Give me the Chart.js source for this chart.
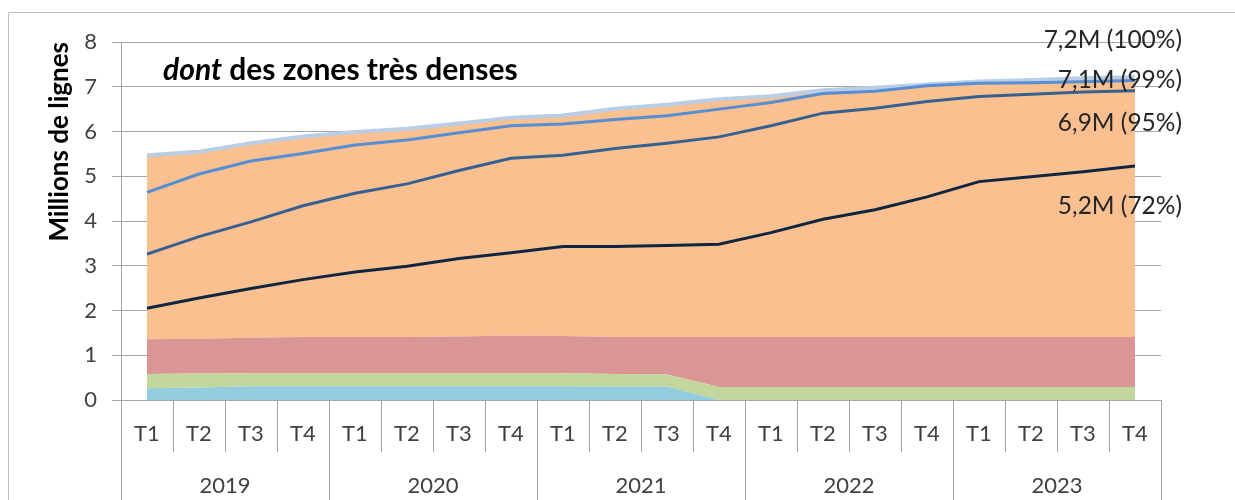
<!DOCTYPE html>
<html lang="fr">
<head>
<meta charset="UTF-8" />
<title>Zones très denses</title>
<script src="https://cdn.jsdelivr.net/npm/chart.js"></script>
<style>
	html, body { margin: 0; padding: 0; background: #fff; }
	#chartContainer { position: relative; width: 1235px; height: 500px; }
</style>
</head>
<body>
<div id="chartContainer"><canvas id="myChart"></canvas></div>
<script>
// trimestres et années
const quarters = ['T1', 'T2', 'T3', 'T4', 'T1', 'T2', 'T3', 'T4', 'T1', 'T2',
	'T3', 'T4', 'T1', 'T2', 'T3', 'T4', 'T1', 'T2', 'T3', 'T4'];
const years = ['2019', '2020', '2021', '2022', '2023'];

// aires empilées : sommet de chaque bande (millions de lignes)
const blueTop   = [0.26, 0.28, 0.31, 0.31, 0.31, 0.31, 0.31, 0.31, 0.31, 0.30, 0.30, 0, 0, 0, 0, 0, 0, 0, 0, 0];
const greenTop  = [0.58, 0.59, 0.60, 0.60, 0.60, 0.60, 0.60, 0.60, 0.60, 0.58, 0.57, 0.29, 0.29, 0.29, 0.29, 0.29, 0.29, 0.29, 0.29, 0.29];
const redTop    = [1.36, 1.37, 1.39, 1.41, 1.41, 1.41, 1.42, 1.44, 1.43, 1.41, 1.41, 1.41, 1.41, 1.41, 1.41, 1.41, 1.41, 1.41, 1.41, 1.41];

// courbes
const total100 = [5.47, 5.55, 5.74, 5.89, 5.99, 6.06, 6.18, 6.31, 6.36, 6.51, 6.60, 6.72, 6.79, 6.92, 6.98, 7.05, 7.12, 7.15, 7.19, 7.21];
const line99   = [4.64, 5.05, 5.34, 5.51, 5.70, 5.81, 5.97, 6.13, 6.17, 6.27, 6.35, 6.50, 6.65, 6.85, 6.90, 7.02, 7.08, 7.09, 7.11, 7.14];
const line95   = [3.26, 3.65, 3.98, 4.34, 4.62, 4.83, 5.13, 5.40, 5.47, 5.62, 5.74, 5.88, 6.13, 6.41, 6.52, 6.67, 6.78, 6.83, 6.88, 6.91];
const line72   = [2.05, 2.28, 2.49, 2.69, 2.86, 2.99, 3.16, 3.29, 3.43, 3.43, 3.45, 3.48, 3.74, 4.04, 4.25, 4.54, 4.88, 4.99, 5.10, 5.23];

const endLabels = ['7,2M (100%)', '7,1M (99%)', '6,9M (95%)', '5,2M (72%)'];

const FONT = 'Lato, "Open Sans", sans-serif';

// séparateurs de l'axe à deux niveaux, cadre, titre et étiquettes de fin
const decorations = {
	id: 'decorations',
	afterDraw(chart) {
		const { ctx, chartArea, scales } = chart;
		const x = scales.x, y = scales.y;
		ctx.save();
		ctx.strokeStyle = '#A6A6A6';
		ctx.lineWidth = 1;
		for (let i = 0; i <= quarters.length; i++) {
			let px;
			if (i === 0) px = chartArea.left;
			else if (i === quarters.length) px = chartArea.right;
			else px = (x.getPixelForValue(i - 1) + x.getPixelForValue(i)) / 2;
			px = Math.round(px) + 0.5;
			const bottom = i % 4 === 0 ? chart.height : chartArea.bottom + 52;
			ctx.beginPath();
			ctx.moveTo(px, chartArea.bottom);
			ctx.lineTo(px, bottom);
			ctx.stroke();
		}
		// cadre du graphique
		ctx.strokeStyle = '#BFBFBF';
		ctx.beginPath();
		ctx.moveTo(8.5, chart.height);
		ctx.lineTo(8.5, 12.5);
		ctx.lineTo(chart.width, 12.5);
		ctx.stroke();

		// titre
		ctx.fillStyle = '#000';
		ctx.textBaseline = 'alphabetic';
		ctx.textAlign = 'left';
		ctx.font = 'italic bold 30px ' + FONT;
		ctx.fillText('dont', 163, 80);
		const w = ctx.measureText('dont').width;
		ctx.font = 'bold 30px ' + FONT;
		ctx.fillText(' des zones très denses', 163 + w, 80);

		// étiquettes de fin de courbe
		const labelY = [8.04, 7.15, 6.19, 4.34];
		ctx.font = '24.5px ' + FONT;
		ctx.fillStyle = '#262626';
		ctx.textAlign = 'right';
		ctx.textBaseline = 'middle';
		endLabels.forEach((t, i) => ctx.fillText(t, 1182, y.getPixelForValue(labelY[i])));
		ctx.restore();
	}
};

const area = (data, color, fill) => ({
	type: 'line', data, fill, backgroundColor: color, borderWidth: 0,
	pointRadius: 0, tension: 0, order: 10
});
const line = (data, color, width, order) => ({
	type: 'line', data, fill: false, borderColor: color, borderWidth: width,
	pointRadius: 0, tension: 0, order
});

const config = {
	type: 'line',
	data: {
		labels: quarters,
		datasets: [
			area(blueTop, '#93CDDD', 'origin'),
			area(greenTop, '#C3D69B', '-1'),
			area(redTop, '#D99694', '-1'),
			area(total100, '#FAC090', '-1'),
			line(total100, '#B9CDE5', 4, 4),
			line(line99, '#558ED5', 3, 3),
			line(line95, '#376092', 3, 2),
			line(line72, '#10253F', 3, 1)
		]
	},
	options: {
		responsive: true,
		maintainAspectRatio: false,
		animation: false,
		layout: { padding: { top: 42, right: 74, left: 0, bottom: 0 } },
		plugins: { legend: { display: false }, tooltip: { enabled: false } },
		scales: {
			x: {
				offset: true,
				grid: { display: false, drawTicks: false },
				border: { display: true, color: '#A6A6A6' },
				ticks: { color: '#404040', font: { family: FONT, size: 22 }, padding: 21, maxRotation: 0, autoSkip: false },
				afterFit(s) { s.height = 52; }
			},
			x2: {
				type: 'category',
				labels: years,
				position: 'bottom',
				offset: true,
				grid: { display: false, drawTicks: false },
				border: { display: false },
				ticks: { color: '#404040', font: { family: FONT, size: 22 }, padding: 21, maxRotation: 0 },
				afterFit(s) { s.height = 48; }
			},
			y: {
				min: 0,
				max: 8,
				ticks: { stepSize: 1, color: '#404040', font: { family: FONT, size: 22 }, padding: 15 },
				grid: { color: '#A6A6A6', tickLength: 9 },
				border: { color: '#A6A6A6' },
				title: {
					display: true, text: 'Millions de lignes', align: 'end', color: '#000',
					font: { family: FONT, size: 26, weight: 'bold' }, padding: { top: 44, bottom: 0 }
				},
				afterFit(s) { s.width = 121; }
			}
		}
	},
	plugins: [decorations]
};

new Chart(document.getElementById('myChart'), config);
</script>
</body>
</html>
